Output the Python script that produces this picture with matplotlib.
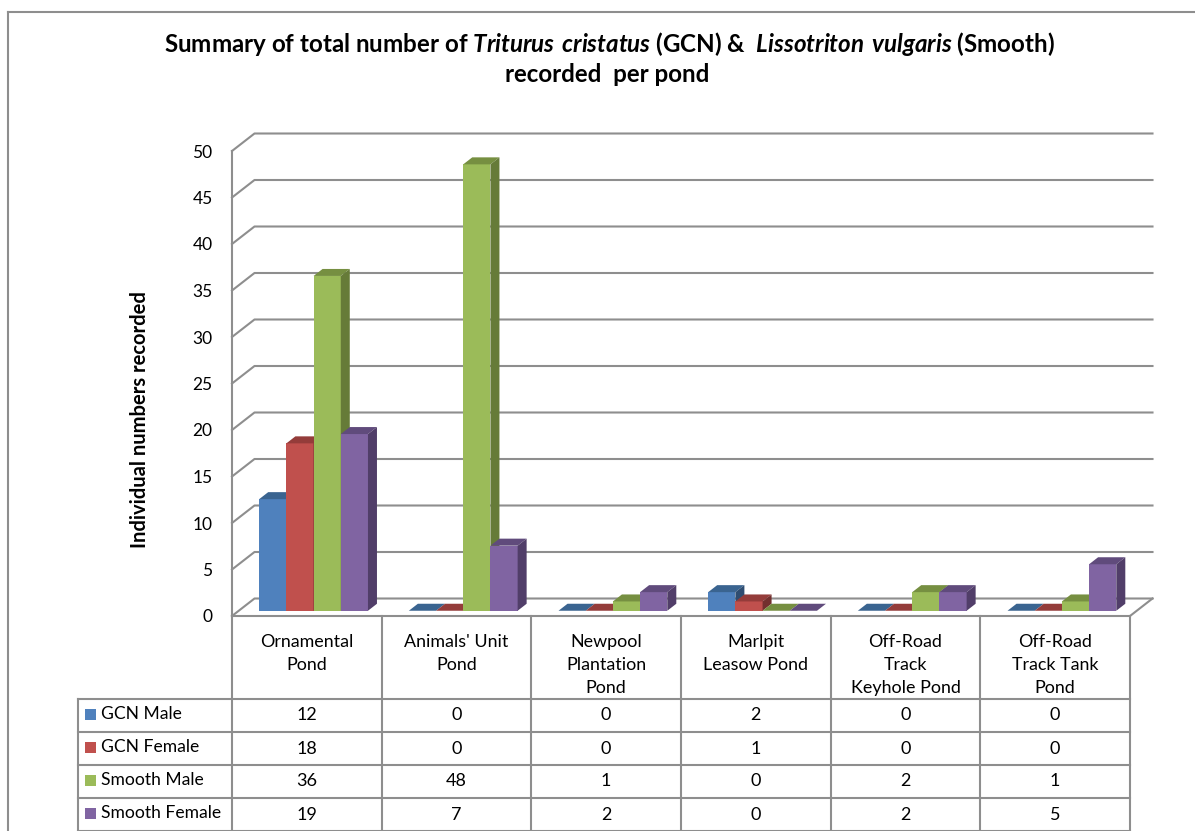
import numpy as np
import matplotlib
matplotlib.use("Agg")
import matplotlib.pyplot as plt
from matplotlib.patches import Polygon, Rectangle

plt.rcParams['font.family'] = ['Lato', 'DejaVu Sans']
plt.rcParams['mathtext.fontset'] = 'custom'
plt.rcParams['mathtext.bfit'] = 'Lato:italic:bold'
plt.rcParams['mathtext.default'] = 'regular'

categories = ["Ornamental\nPond", "Animals' Unit\nPond", "Newpool\nPlantation\nPond",
              "Marlpit\nLeasow Pond", "Off-Road\nTrack\nKeyhole Pond", "Off-Road\nTrack Tank\nPond"]
series_names = ["GCN Male", "GCN Female", "Smooth Male", "Smooth Female"]
gcn_male = [12, 0, 0, 2, 0, 0]
gcn_female = [18, 0, 0, 1, 0, 0]
smooth_male = [36, 48, 1, 0, 2, 1]
smooth_female = [19, 7, 2, 0, 2, 5]
y_ticks = [0, 5, 10, 15, 20, 25, 30, 35, 40, 45, 50]

series = [gcn_male, gcn_female, smooth_male, smooth_female]
face_cols = ["#4F81BD", "#C0504D", "#9BBB59", "#8064A2"]
side_cols = ["#2F4D71", "#73302E", "#667B38", "#513E69"]
top_cols = ["#3A6490", "#943C3A", "#768F41", "#604B7C"]
line_col = "#8E8E8E"

W, H = 1195, 831
fig = plt.figure(figsize=(W / 100, H / 100), dpi=100, facecolor="white")

# page sized axes in pixels, for the frame and the data table
page = fig.add_axes([0, 0, 1, 1])
page.set_xlim(0, W)
page.set_ylim(H, 0)
page.axis("off")

# main axes sits on the front plane of the 3d box
left, right, y0, y50 = 232, 1130, 616, 151
ax = fig.add_axes([left / W, (H - y0) / H, (right - left) / W, (y0 - y50) / H])
ax.set_xlim(0, 6)
ax.set_ylim(0, 50)
ax.patch.set_alpha(0)
for s in ["top", "right", "bottom"]:
    ax.spines[s].set_visible(False)
ax.spines["left"].set_color(line_col)
ax.spines["left"].set_linewidth(1.5)
ax.set_xticks([])
ax.set_yticks(y_ticks)
ax.tick_params(axis="y", length=0, pad=14, labelsize=12.5, colors="black")

# depth of the box in data units
dx = 22.5 / 149.7
dy = 17.5 / 9.3

# walls
for v in y_ticks:
    ax.plot([0, dx, 6 + dx], [v, v + dy, v + dy], color=line_col, lw=1.5, clip_on=False, zorder=1)
ax.plot([6, 6 + dx], [0, dy], color=line_col, lw=1.5, clip_on=False, zorder=1)

# bars
bar_w = 27.2 / 149.7
gap = (1 - 4 * bar_w) / 2
d_front, d_back = 0.3, 0.7
for j, vals in enumerate(series):
    x = np.arange(6) + gap + j * bar_w + d_front * dx
    base = d_front * dy
    ddx = (d_back - d_front) * dx
    ddy = (d_back - d_front) * dy
    for xi, v in zip(x, vals):
        ax.bar(xi, v, width=bar_w, bottom=base, align="edge", color=face_cols[j],
               edgecolor="none", clip_on=False, zorder=5 + j * 0.1)
        top = base + v
        ax.add_patch(Polygon([(xi, top), (xi + ddx, top + ddy), (xi + bar_w + ddx, top + ddy), (xi + bar_w, top)],
                             facecolor=top_cols[j], edgecolor="none", clip_on=False, zorder=5 + j * 0.1))
        ax.add_patch(Polygon([(xi + bar_w, base), (xi + bar_w + ddx, base + ddy),
                              (xi + bar_w + ddx, top + ddy), (xi + bar_w, top)],
                             facecolor=side_cols[j], edgecolor="none", clip_on=False, zorder=5 + j * 0.1))

ax.set_ylabel("Individual numbers recorded", fontsize=14.5, fontweight="bold", labelpad=0)
ax.yaxis.set_label_coords((150 - left) / (right - left), (y0 - 420) / (y0 - y50))

# outer frame
page.plot([8, 8], [12, H], color=line_col, lw=1.5)
page.plot([8, W], [12, 12], color=line_col, lw=1.5)

# table
col_x = np.linspace(left, right, 7)
row_y = [699, 732, 765, 798, 831]
page.plot([left, right], [y0, y0], color=line_col, lw=1.5)
for cx in col_x:
    page.plot([cx, cx], [y0, H], color=line_col, lw=1.5)
page.plot([78, 78], [row_y[0], H], color=line_col, lw=1.5)
for ry in row_y:
    page.plot([78, right], [ry, ry], color=line_col, lw=1.5)

for i, name in enumerate(categories):
    page.text((col_x[i] + col_x[i + 1]) / 2, 634, name, ha="center", va="top", fontsize=12.9, linespacing=1.52)

for j, name in enumerate(series_names):
    yc = (row_y[j] + row_y[j + 1]) / 2 - 1.5
    page.add_patch(Rectangle((85, yc - 5), 11, 11, facecolor=face_cols[j], edgecolor="none"))
    page.text(101, yc, name, ha="left", va="center", fontsize=12.6)
    for i, v in enumerate(series[j]):
        page.text((col_x[i] + col_x[i + 1]) / 2, yc + 1.5, str(v), ha="center", va="center", fontsize=13)

# title
page.text(609, 44, r"Summary of total number of $\mathbfit{Triturus\ cristatus}$ (GCN) &  $\mathbfit{Lissotriton\ vulgaris}$ (Smooth)",
          ha="center", va="center", fontsize=17.4, fontweight="bold")
page.text(607, 75, "recorded  per pond", ha="center", va="center", fontsize=17.4, fontweight="bold")

fig.savefig("out.png", dpi=100)
